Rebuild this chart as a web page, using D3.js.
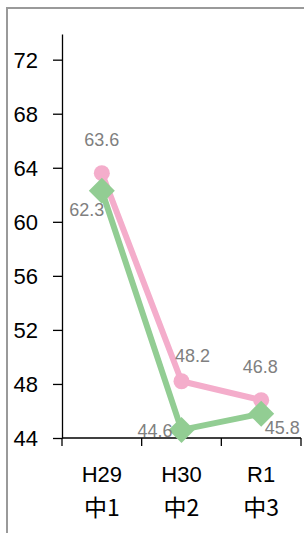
<!DOCTYPE html>
<html>
<head>
<meta charset="utf-8">
<script src="https://cdn.jsdelivr.net/npm/d3@7"></script>
<style>
  body { margin: 0; background: #fff; }
  svg { display: block; }
</style>
</head>
<body>
<svg id="chart"></svg>
<script>
// chart data
const categories = ["H29", "H30", "R1"];
const subLabels = ["中1", "中2", "中3"];
const pinkValues = [63.6, 48.2, 46.8];
const greenValues = [62.3, 44.6, 45.8];
const yTicks = [44, 48, 52, 56, 60, 64, 68, 72];

const svgWidth = 304,
  svgHeight = 533;

const svg = d3.select("#chart").attr("width", svgWidth).attr("height", svgHeight);

// outer frame (only top / left visible)
svg.append("rect")
  .attr("x", 7).attr("y", 8)
  .attr("width", 320).attr("height", 560)
  .attr("fill", "none")
  .attr("stroke", "#9a9a9a")
  .attr("stroke-width", 2);

const x = d3.scaleBand().domain(categories).range([62, 301]);
const y = d3.scaleLinear().domain([44, 73.9]).range([438, 34]);

const font = "'Liberation Sans', Arial, sans-serif";

// y axis
const yAxis = svg.append("g")
  .attr("transform", "translate(62,0)")
  .call(d3.axisLeft(y).tickValues(yTicks).tickSize(9).tickPadding(15).tickSizeOuter(0));
yAxis.select(".domain").attr("stroke", "#000").attr("stroke-width", 1.3);
yAxis.selectAll(".tick line").attr("stroke", "#000").attr("stroke-width", 1.3);
yAxis.selectAll("text")
  .attr("font-family", font)
  .attr("font-size", 22)
  .attr("fill", "#000")
  .attr("dy", "0.36em");

// x axis
const xAxis = svg.append("g").attr("transform", "translate(0,438)");
xAxis.append("line")
  .attr("x1", 62).attr("x2", 301)
  .attr("stroke", "#000").attr("stroke-width", 1.3);
xAxis.selectAll(".xt")
  .data([62].concat(categories.map((c) => x(c) + x.bandwidth())))
  .join("line")
  .attr("x1", (d) => d).attr("x2", (d) => d)
  .attr("y1", 0).attr("y2", 8)
  .attr("stroke", "#000").attr("stroke-width", 1.3);
xAxis.selectAll(".cat")
  .data(categories)
  .join("text")
  .attr("x", (d) => x(d) + x.bandwidth() / 2)
  .attr("y", 44)
  .attr("text-anchor", "middle")
  .attr("font-family", font)
  .attr("font-size", 22)
  .text((d) => d);
xAxis.selectAll(".sub")
  .data(subLabels)
  .join("text")
  .attr("x", (d, i) => x(categories[i]) + x.bandwidth() / 2)
  .attr("y", 78)
  .attr("text-anchor", "middle")
  .attr("font-family", "'Noto Sans CJK JP', sans-serif")
  .attr("font-size", 23)
  .text((d) => d);

const cx = (i) => x(categories[i]) + x.bandwidth() / 2;

const line = d3.line()
  .x((d, i) => cx(i))
  .y((d) => y(d));

// pink series
svg.append("path")
  .datum(pinkValues)
  .attr("fill", "none")
  .attr("stroke", "#f4adcb")
  .attr("stroke-width", 6)
  .attr("stroke-linejoin", "round")
  .attr("d", line);
svg.selectAll(".pdot")
  .data(pinkValues)
  .join("circle")
  .attr("cx", (d, i) => cx(i))
  .attr("cy", (d) => y(d))
  .attr("r", 8)
  .attr("fill", "#f4adcb");

// green series
svg.append("path")
  .datum(greenValues)
  .attr("fill", "none")
  .attr("stroke", "#92cd93")
  .attr("stroke-width", 6)
  .attr("stroke-linejoin", "round")
  .attr("d", line);
svg.selectAll(".gdot")
  .data(greenValues)
  .join("path")
  .attr("transform", (d, i) => "translate(" + cx(i) + "," + y(d) + ")")
  .attr("d", "M0,-13L13,0L0,13L-13,0Z")
  .attr("fill", "#92cd93");

// data labels
const labelStyle = (sel) =>
  sel.attr("font-family", font).attr("font-size", 18).attr("fill", "#808080");

// label offsets relative to marker
const pinkOffsets = [[0, -27, "middle"], [11, -19, "middle"], [-1, -27, "middle"]];
const greenOffsets = [[-15, 25, "middle"], [-9, 7, "end"], [21, 20, "middle"]];

svg.selectAll(".plab")
  .data(pinkValues)
  .join("text")
  .call(labelStyle)
  .attr("x", (d, i) => cx(i) + pinkOffsets[i][0])
  .attr("y", (d) => y(d))
  .attr("dy", (d, i) => pinkOffsets[i][1])
  .attr("text-anchor", (d, i) => pinkOffsets[i][2])
  .text((d) => d.toFixed(1));

svg.selectAll(".glab")
  .data(greenValues)
  .join("text")
  .call(labelStyle)
  .attr("x", (d, i) => cx(i) + greenOffsets[i][0])
  .attr("y", (d) => y(d))
  .attr("dy", (d, i) => greenOffsets[i][1])
  .attr("text-anchor", (d, i) => greenOffsets[i][2])
  .text((d) => d.toFixed(1));
</script>
</body>
</html>
